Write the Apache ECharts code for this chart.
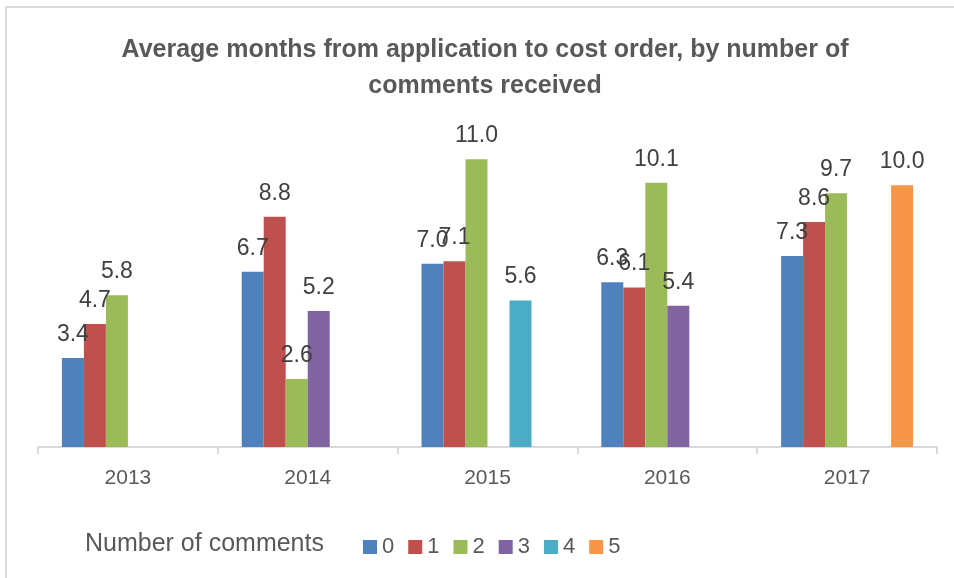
<!DOCTYPE html>
<html>
<head>
  <meta charset="utf-8">
  <title>Average months from application to cost order</title>
  <script src="https://cdn.jsdelivr.net/npm/echarts@6/dist/echarts.min.js"></script>
  <style type="text/css">
    html, body {
      margin: 0;
      padding: 0;
      background: #ffffff;
    }

    #chart {
      width: 954px;
      height: 578px;
    }
  </style>
</head>
<body>
<div id="chart"></div>
<script>
  // 数据
  var years = ['2013', '2014', '2015', '2016', '2017'];
  var commentCounts = ['0', '1', '2', '3', '4', '5'];
  var colors = ['#4F81BD', '#C0504D', '#9BBB59', '#8064A2', '#4BACC6', '#F79646'];
  var months0 = [3.4, 6.7, 7.0, 6.3, 7.3];
  var months1 = [4.7, 8.8, 7.1, 6.1, 8.6];
  var months2 = [5.8, 2.6, 11.0, 10.1, 9.7];
  var months3 = [null, 5.2, null, 5.4, null];
  var months4 = [null, null, 5.6, null, null];
  var months5 = [null, null, null, null, 10.0];
  var seriesValues = [months0, months1, months2, months3, months4, months5];

  var font = '"Liberation Sans", Arial, sans-serif';

  var chart = echarts.init(document.getElementById('chart'));

  var series = [];
  for (var i = 0; i < commentCounts.length; i++) {
    series.push({
      name: commentCounts[i],
      type: 'bar',
      data: seriesValues[i],
      barWidth: 22,
      barGap: '0%',
      itemStyle: {color: colors[i]},
      label: {
        show: true,
        position: 'top',
        distance: 12,
        color: '#404040',
        fontFamily: font,
        fontSize: 23,
        formatter: function (p) {
          return p.value == null ? '' : p.value.toFixed(1);
        }
      }
    });
  }

  var option = {
    animation: false,
    backgroundColor: '#ffffff',
    title: {
      text: 'Average months from application to cost order, by number of\ncomments received',
      left: 480,
      textAlign: 'center',
      top: 27,
      textStyle: {
        color: '#595959',
        fontFamily: font,
        fontWeight: 'bold',
        fontSize: 25,
        lineHeight: 36
      }
    },
    graphic: [
      {
        type: 'polyline',
        shape: {points: [[6, 578], [6, 7], [954, 7]]},
        style: {stroke: '#d9d9d9', lineWidth: 2, fill: null}
      },
      {
        type: 'text',
        left: 85,
        top: 532,
        style: {
          text: 'Number of comments',
          fill: '#595959',
          font: '25px ' + font
        }
      }
    ],
    legend: {
      data: commentCounts,
      left: 358,
      top: 531,
      icon: 'rect',
      itemWidth: 14,
      itemHeight: 14,
      itemGap: 14,
      textStyle: {
        color: '#595959',
        fontFamily: font,
        fontSize: 22
      }
    },
    grid: {
      left: 38,
      right: 17,
      top: 133,
      bottom: 131
    },
    xAxis: {
      type: 'category',
      data: years,
      axisLine: {lineStyle: {color: '#d9d9d9', width: 2}},
      axisTick: {show: true, length: 7, lineStyle: {color: '#d9d9d9', width: 2}},
      axisLabel: {
        color: '#595959',
        fontFamily: font,
        fontSize: 21,
        margin: 21
      }
    },
    yAxis: {
      type: 'value',
      min: 0,
      max: 12,
      show: false,
      splitLine: {show: false}
    },
    series: series
  };

  chart.setOption(option);
</script>
</body>
</html>
